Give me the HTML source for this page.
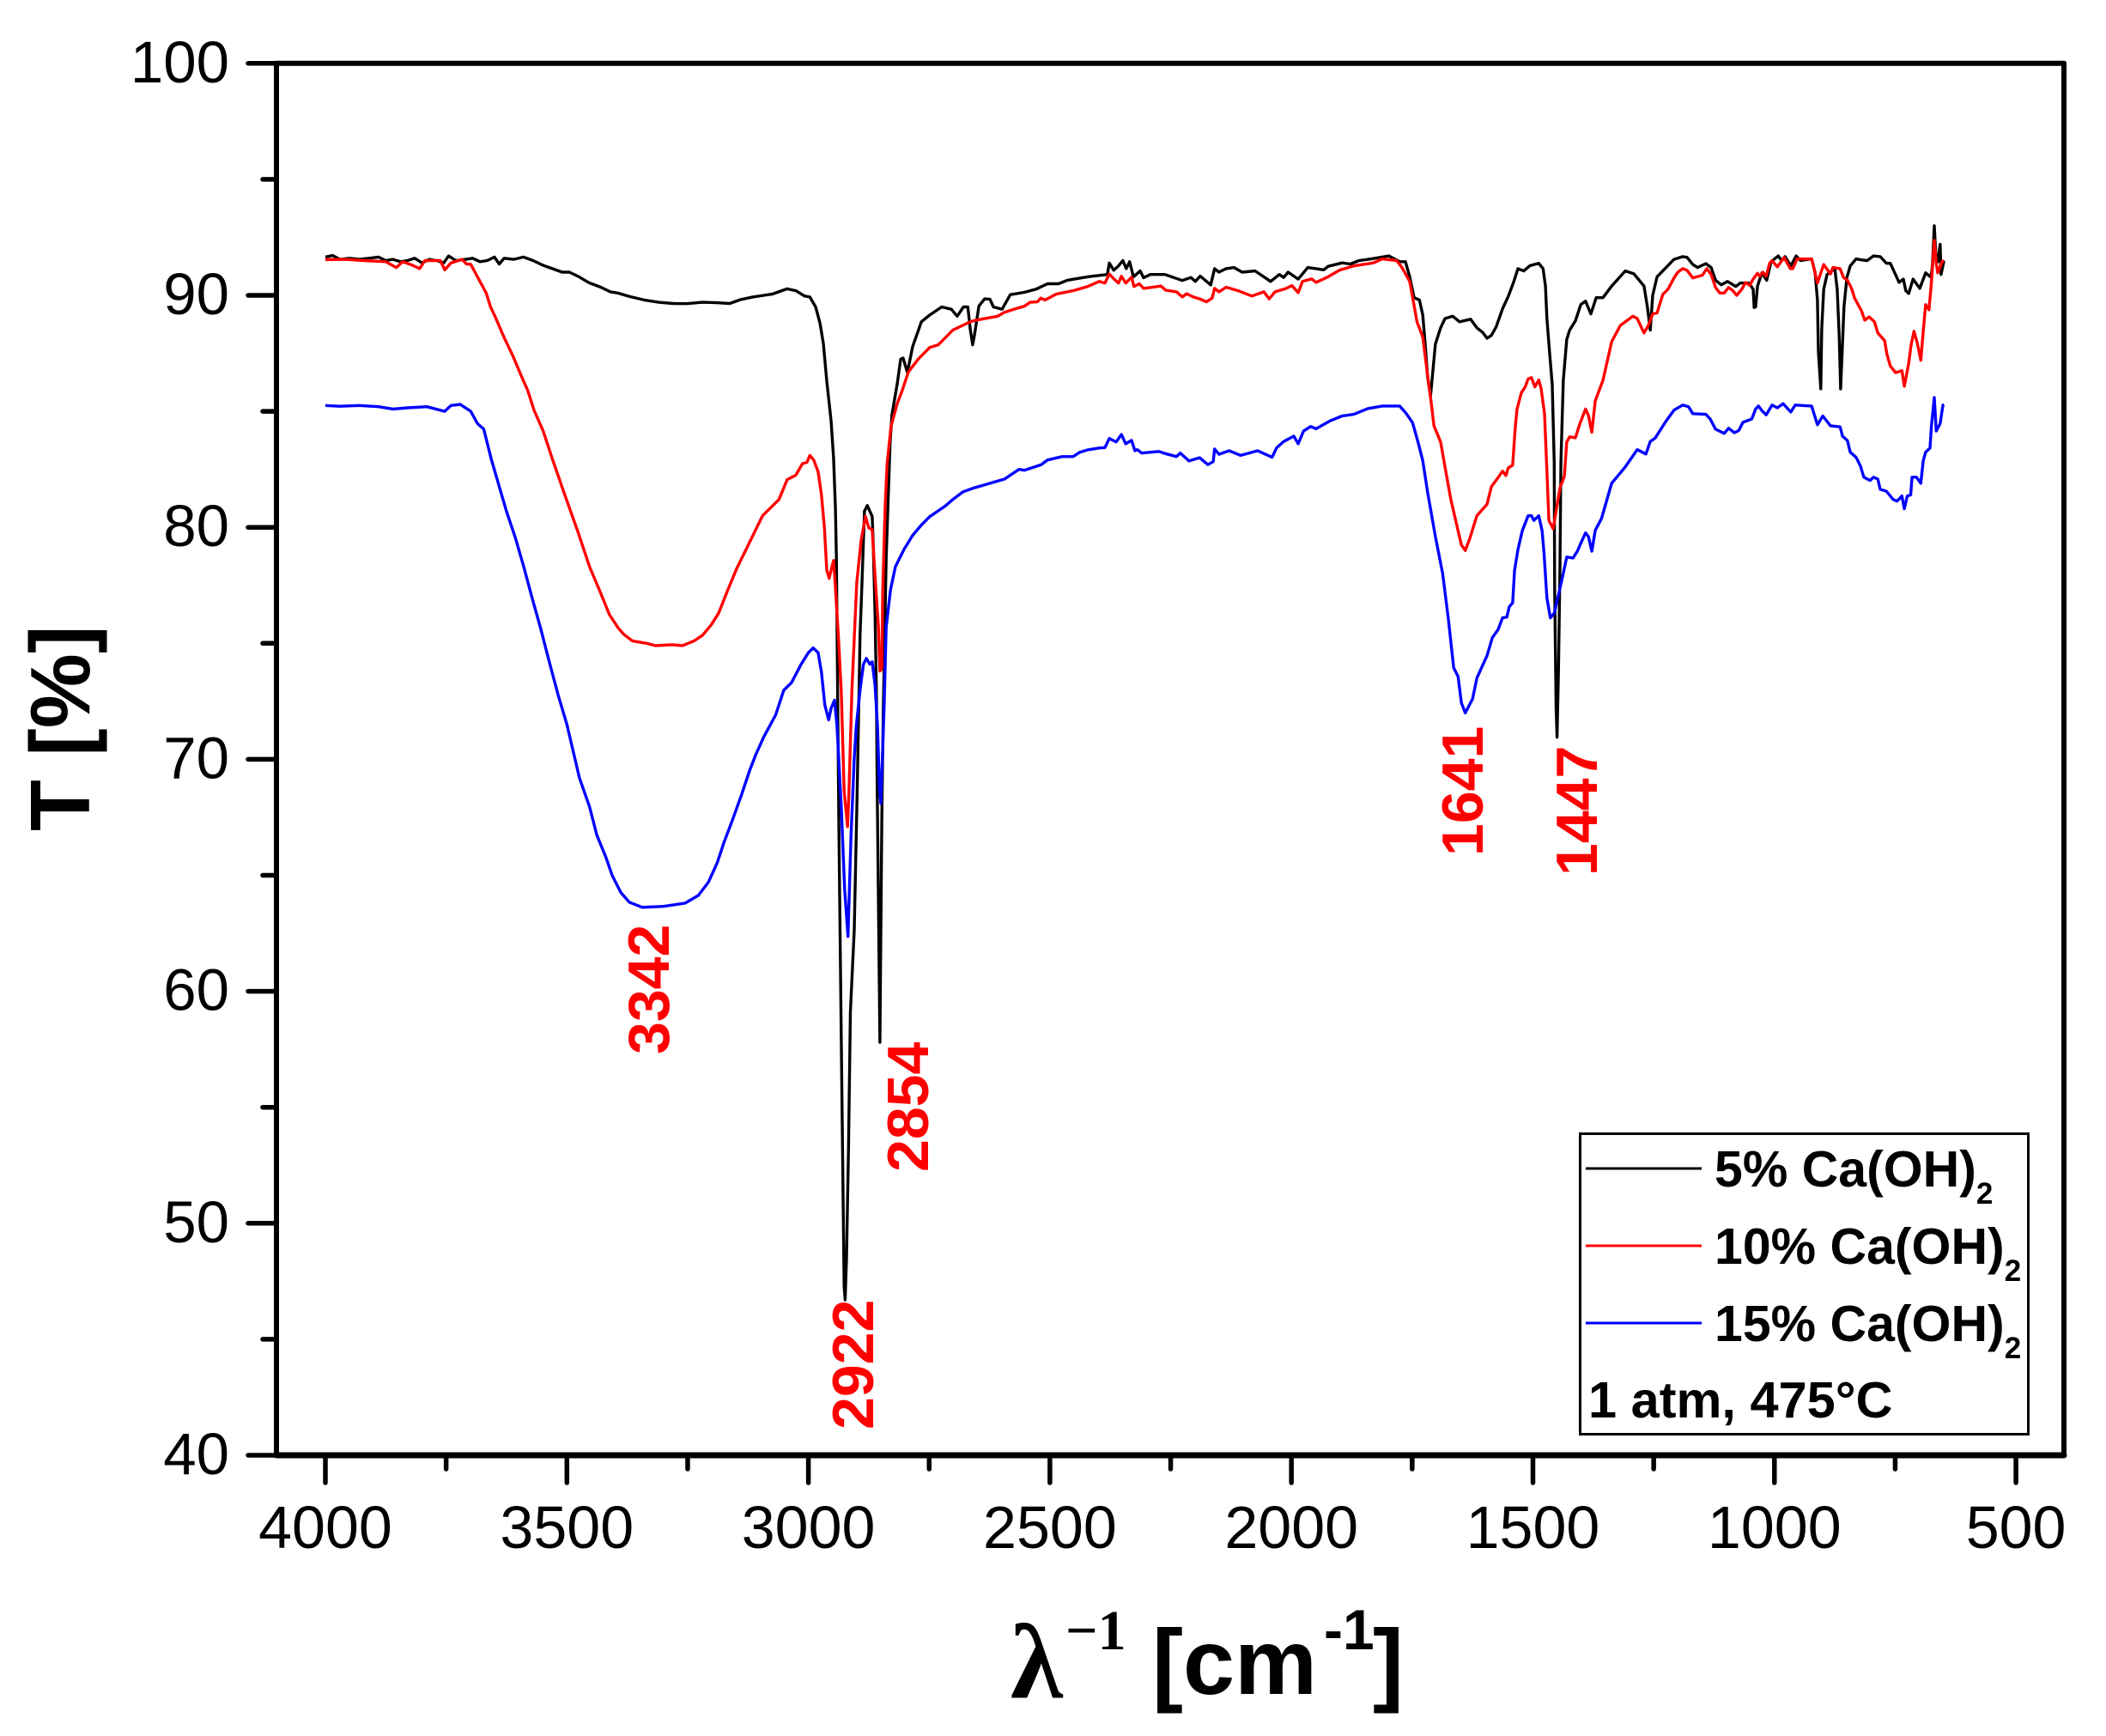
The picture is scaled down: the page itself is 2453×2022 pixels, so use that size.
<!DOCTYPE html>
<html lang="en">
<head>
<meta charset="utf-8">
<title>FTIR transmittance spectra</title>
<style>
html,body{margin:0;padding:0;background:#fff;}
svg{display:block;}
text{font-family:"Liberation Sans",sans-serif;fill:#000;}
.peak{font-weight:bold;font-size:68px;fill:#ff0000;}
.leg{font-weight:bold;font-size:59px;}
</style>
</head>
<body>
<svg id="chart" xmlns="http://www.w3.org/2000/svg" width="2453" height="2022" viewBox="0 0 2453 2022">
  <rect x="0" y="0" width="2453" height="2022" fill="#ffffff"/>
  <g id="series" fill="none" stroke-width="3.4" stroke-linejoin="round"></g>
  <g id="axes"></g>

  <text transform="translate(104,968) rotate(-90)" font-size="98" font-weight="bold">T [%]</text>

  <g>
    <text x="1177" y="1977" font-size="124" font-weight="bold" style="font-family:'Liberation Serif',serif">λ</text>
    <text x="1241" y="1921" font-size="66" font-weight="bold" style="font-family:'Liberation Serif',serif">−1</text>
    <text x="1342" y="1973" font-size="108" font-weight="bold">[cm</text>
    <text x="1542" y="1921" font-size="66" font-weight="bold">-1</text>
    <text x="1599" y="1973" font-size="108" font-weight="bold">]</text>
  </g>

  <text class="peak" transform="translate(779,1228) rotate(-90)">3342</text>
  <text class="peak" transform="translate(1017,1665) rotate(-90)">2922</text>
  <text class="peak" transform="translate(1081,1365) rotate(-90)">2854</text>
  <text class="peak" transform="translate(1727,997) rotate(-90)">1641</text>
  <text class="peak" transform="translate(1860,1020) rotate(-90)">1447</text>

  <g>
    <rect x="1840.5" y="1320.5" width="522" height="350" fill="#ffffff" stroke="#000" stroke-width="3"/>
    <line x1="1847" y1="1361" x2="1982" y2="1361" stroke="#000000" stroke-width="3"/>
    <line x1="1847" y1="1451" x2="1982" y2="1451" stroke="#ff0000" stroke-width="3"/>
    <line x1="1847" y1="1541" x2="1982" y2="1541" stroke="#0000ff" stroke-width="3"/>
    <text class="leg" x="1997" y="1382">5% Ca(OH)<tspan font-size="35" dy="20">2</tspan></text>
    <text class="leg" x="1997" y="1472">10% Ca(OH)<tspan font-size="35" dy="20">2</tspan></text>
    <text class="leg" x="1997" y="1562">15% Ca(OH)<tspan font-size="35" dy="20">2</tspan></text>
    <text class="leg" x="1850" y="1651" style="font-size:59.5px">1 atm, 475°C</text>
  </g>
</svg>

<script>
var xMajorTicks = [4000,3500,3000,2500,2000,1500,1000,500];
var xMinorTicks = [3750,3250,2750,2250,1750,1250,750];
var yMajorTicks = [100,90,80,70,60,50,40];
var yMinorTicks = [95,85,75,65,55,45];

var wn5 = [
4000,3985,3970,3950,3930,3910,3890,3875,3860,3845,
3830,3815,3800,3785,3770,3755,3745,3730,3710,3695,
3680,3665,3650,3640,3630,3610,3590,3570,3550,3530,
3510,3495,3475,3455,3430,3410,3395,3370,3340,3310,
3280,3252,3220,3190,3163,3140,3115,3074,3044,3026,
3008,2997,2985,2976,2969,2962,2953,2948,2944,2942,
2937,2932,2928,2926,2924,2921,2917,2913,2905,2899,
2893,2889,2884,2878,2868,2866,2862,2859,2858,2852,
2848,2845,2839,2831,2827,2816,2809,2804,2795,2784,
2766,2749,2724,2704,2692,2679,2670,2665,2660,2656,
2647,2635,2624,2617,2599,2582,2553,2528,2505,2482,
2464,2422,2398,2381,2377,2368,2358,2349,2342,2335,
2327,2313,2306,2292,2262,2226,2208,2199,2189,2167,
2159,2150,2135,2119,2102,2075,2043,2025,2016,2007,
1986,1966,1949,1933,1924,1895,1878,1860,1835,1798,
1776,1764,1755,1746,1735,1728,1723,1718,1712,1702,
1691,1682,1666,1652,1629,1616,1604,1595,1586,1576,
1563,1551,1540,1531,1519,1506,1488,1479,1474,1471,
1465,1460,1456,1455,1452,1450,1447,1444,1442,1437,
1430,1424,1412,1401,1391,1380,1369,1355,1337,1309,
1291,1270,1263,1257,1252,1243,1208,1190,1181,1169,
1159,1142,1131,1122,1110,1097,1080,1071,1053,1044,
1042,1039,1035,1026,1016,1007,992,985,978,966,
955,946,923,916,911,909,904,902,898,891,
875,870,866,863,859,856,850,843,831,820,
808,795,781,768,760,751,742,733,728,722,
713,699,687,676,673,669,665,662,657,655,
649];
var t5 = [
91.65,91.72,91.55,91.6,91.55,91.6,91.65,91.5,91.55,91.45,
91.5,91.6,91.4,91.55,91.5,91.4,91.7,91.5,91.55,91.6,
91.45,91.5,91.65,91.35,91.6,91.55,91.65,91.5,91.3,91.15,
91.0,91.0,90.8,90.55,90.35,90.15,90.1,89.95,89.8,89.7,
89.65,89.64,89.7,89.68,89.65,89.82,89.93,90.06,90.28,90.2,
89.97,89.93,89.5,88.8,87.93,86.3,84.6,83.0,80.8,78.7,
67.4,57.9,50.85,47.3,46.7,48.5,53.2,59.1,62.65,68.6,
75.4,77.6,80.7,80.94,80.47,79.4,76.3,72.65,69.6,57.8,
67.4,72.1,78.7,83.6,84.85,86.2,87.25,87.3,86.68,87.8,
88.86,89.15,89.5,89.4,89.1,89.5,89.5,88.55,87.87,88.3,
89.54,89.85,89.83,89.5,89.4,90.03,90.13,90.27,90.5,90.5,
90.65,90.8,90.86,90.9,91.39,91.08,91.27,91.5,91.15,91.45,
90.8,91.05,90.76,90.9,90.9,90.64,90.77,90.6,90.83,90.45,
91.15,91,91.15,91.2,91,91.05,90.6,90.9,90.77,91,
90.7,91.2,91.15,91.1,91.25,91.4,91.35,91.5,91.57,91.7,
91.45,91.45,90.8,89.9,89.8,89.15,87.9,86.45,85.65,87.9,
88.6,89.0,89.1,88.86,88.97,88.6,88.4,88.15,88.27,88.64,
89.42,89.96,90.57,91.15,91.05,91.28,91.38,91.15,90.4,89.0,
87.4,86.15,82.8,77.4,72.2,70.95,73.9,78.3,82.8,86.35,
88.1,88.5,88.9,89.6,89.75,89.2,89.9,89.9,90.4,91.05,
90.93,90.4,89.5,88.5,90.0,90.8,91.55,91.67,91.64,91.33,
91.2,91.37,91.2,90.65,90.45,90.6,90.38,90.53,90.53,90.27,
89.48,89.5,90.4,90.97,90.65,91.45,91.7,91.5,91.67,91.27,
91.7,91.5,91.57,91,89.8,87.57,85.97,88.56,90.27,90.9,
91.15,90.27,88.3,85.97,87.93,89.5,90.77,91.27,91.57,91.53,
91.5,91.7,91.67,91.38,91.38,90.97,90.56,90.7,90.2,90.08,
90.7,90.3,90.97,90.78,91.27,93,91.38,91.45,92.2,90.9,
91.5];

var wn10 = [
4000,3960,3920,3875,3862,3853,3840,3820,3805,3794,
3762,3753,3740,3717,3708,3699,3680,3667,3658,3649,
3630,3612,3595,3581,3568,3549,3531,3506,3477,3453,
3430,3412,3394,3382,3364,3335,3317,3282,3261,3237,
3219,3201,3186,3168,3149,3127,3109,3095,3079,3061,
3044,3026,3012,3003,2997,2989,2980,2973,2967,2962,
2957,2953,2948,2944,2937,2932,2926,2919,2916,2910,
2900,2891,2882,2875,2868,2862,2855,2852,2848,2846,
2841,2837,2829,2816,2807,2793,2772,2749,2731,2715,
2701,2665,2653,2608,2594,2567,2553,2541,2526,2519,
2510,2487,2452,2422,2398,2386,2377,2367,2358,2352,
2343,2331,2326,2315,2306,2270,2260,2238,2226,2217,
2203,2190,2176,2164,2159,2150,2135,2109,2082,2057,
2046,2034,2013,1999,1986,1977,1958,1949,1924,1901,
1871,1830,1812,1782,1771,1755,1749,1740,1728,1719,
1710,1705,1691,1682,1670,1658,1648,1640,1631,1616,
1595,1586,1572,1563,1556,1551,1542,1537,1533,1524,
1516,1510,1503,1496,1488,1483,1476,1471,1467,1458,
1453,1444,1435,1430,1424,1412,1403,1391,1385,1378,
1371,1355,1337,1319,1293,1284,1270,1261,1252,1243,
1231,1220,1208,1200,1190,1181,1169,1149,1140,1131,
1122,1113,1104,1095,1086,1078,1067,1060,1051,1044,
1035,1030,1024,1017,1010,1005,994,980,967,962,
953,923,918,911,905,898,884,879,864,857,
849,840,834,825,820,813,804,793,786,772,
767,760,749,736,731,722,717,711,704,697,
693,687,680,675,669,665,662,653,649];
var t10 = [
91.54,91.55,91.5,91.45,91.3,91.2,91.45,91.3,91.15,91.5,
91.5,91.1,91.4,91.55,91.35,91.34,90.6,90.1,89.5,89.1,
88.18,87.4,86.55,85.9,85.05,84.15,83.0,81.5,79.8,78.3,
77.16,76.24,75.67,75.38,75.1,75.0,74.9,74.94,74.9,75.1,
75.35,75.8,76.3,77.24,78.2,79.13,79.9,80.5,80.83,81.2,
82.05,82.25,82.75,82.8,83.1,82.9,82.4,81.4,80,78.15,
77.8,78.15,78.57,77.4,75,72.9,68.65,67.1,68.65,72.9,
77.6,79.4,80.47,79.98,79.9,77.9,75.7,73.8,73.9,77.3,
81,82.75,84.35,85.34,85.83,86.7,87.27,87.75,87.87,88.2,
88.5,88.86,88.93,89.1,89.27,89.45,89.53,89.7,89.72,89.88,
89.8,90.05,90.2,90.38,90.6,90.53,90.92,90.7,90.53,90.82,
90.53,90.78,90.38,90.5,90.3,90.4,90.22,90.15,89.93,90.07,
89.93,89.85,89.72,89.88,90.3,90.15,90.35,90.19,89.97,90.15,
89.85,90.15,90.28,90.42,90.12,90.6,90.71,90.56,90.8,91.08,
91.27,91.4,91.57,91.5,91.2,90.6,89.9,88.86,88.2,86.7,
85.27,84.38,83.68,82.6,81.2,80.13,79.24,79.0,79.5,80.5,
81,81.75,82.15,82.42,82.23,82.56,82.68,84.2,85.08,85.8,
86.05,86.4,86.45,86.05,86.35,85.97,84.9,82.42,80.3,79.94,
80.57,81.7,82.2,83.68,83.9,83.86,84.46,85.1,84.82,84.1,
85.45,86.34,88,88.7,89.1,89,88.38,88.7,89.2,89.24,
90.04,90.27,90.75,91,91.15,91.08,90.75,90.87,91.15,90.9,
90.34,90.1,90.1,90.34,90.2,90,90.28,90.55,90.43,90.7,
90.95,90.83,91,90.83,91.38,91.5,91.23,91.63,91.15,91.15,
91.57,91.57,91.15,90.53,90.9,91.33,90.92,91.2,91.15,90.77,
90.65,90.28,89.88,89.53,89.34,88.93,89.07,88.86,88.38,88.05,
87.45,86.95,86.67,86.75,86.08,87.07,87.87,88.45,87.93,87.2,
88.18,89.6,89.38,90.53,92.37,91.38,90.97,91.45,91.5];

var wn15 = [
4000,3970,3930,3890,3860,3830,3790,3753,3740,3721,
3699,3685,3672,3657,3639,3625,3607,3589,3572,3554,
3536,3518,3500,3488,3474,3453,3438,3420,3406,3388,
3371,3344,3300,3255,3228,3207,3189,3175,3157,3139,
3122,3109,3092,3068,3051,3035,3015,3000,2990,2980,
2973,2966,2958,2953,2946,2941,2932,2925,2918,2912,
2905,2901,2893,2886,2880,2873,2868,2862,2857,2853,
2850,2843,2839,2830,2820,2802,2784,2766,2749,2718,
2701,2680,2660,2624,2594,2564,2553,2518,2505,2475,
2452,2438,2422,2398,2386,2377,2363,2352,2343,2331,
2324,2319,2310,2274,2265,2238,2230,2212,2190,2173,
2162,2159,2150,2129,2105,2070,2040,2031,2016,1995,
1986,1975,1960,1949,1919,1895,1871,1842,1812,1776,
1762,1749,1737,1728,1718,1702,1687,1675,1664,1655,
1648,1640,1625,1616,1595,1584,1572,1563,1554,1549,
1542,1538,1531,1522,1510,1503,1498,1488,1481,1477,
1471,1464,1456,1447,1439,1430,1417,1408,1399,1391,
1385,1378,1371,1358,1337,1309,1284,1266,1257,1247,
1225,1208,1190,1178,1169,1142,1133,1122,1104,1095,
1083,1074,1065,1047,1039,1033,1026,1017,1005,994,
982,966,957,923,911,900,884,864,859,849,
843,831,822,815,802,795,786,781,768,754,
746,736,731,725,718,715,706,697,692,687,
678,675,669,665,657,651,649];
var t15 = [
85.25,85.22,85.25,85.2,85.1,85.15,85.2,85.0,85.25,85.3,
85.0,84.47,84.23,82.97,81.68,80.68,79.57,78.28,76.95,75.62,
74.17,72.76,71.5,70.43,69.2,67.95,66.73,65.82,64.98,64.25,
63.84,63.62,63.66,63.8,64.13,64.7,65.53,66.4,67.4,68.44,
69.5,70.2,70.98,71.9,72.98,73.3,74.1,74.6,74.8,74.6,
73.76,72.35,71.7,72.2,72.55,71.5,67.95,64.4,62.36,66.55,
70.05,71.4,73,74.1,74.35,74.1,74.2,73.2,71.4,68.8,
68.1,72.4,75.7,77.3,78.3,79.05,79.66,80.1,80.46,80.9,
81.2,81.53,81.68,81.9,82.08,82.5,82.46,82.7,82.9,83.05,
83.05,83.24,83.34,83.42,83.44,83.83,83.68,84.0,83.6,83.75,
83.3,83.35,83.2,83.27,83.2,83.05,83.2,82.86,83,82.7,
82.83,83.38,83.15,83.3,83.1,83.3,83.02,83.42,83.7,83.93,
83.6,84.15,84.35,84.25,84.6,84.8,84.87,85.12,85.23,85.23,
84.9,84.5,83.6,82.87,81.5,79.6,78.02,76.05,73.94,73.57,
72.43,72.0,72.6,73.5,74.47,75.24,75.6,76.1,76.13,76.57,
76.75,78.15,79.05,79.85,80.5,80.5,80.3,80.5,79.85,78.9,
76.95,76.1,76.3,77.1,77.83,78.72,78.68,78.97,79.4,79.76,
79.6,78.97,79.87,80.38,81.9,82.6,83.35,83.16,83.7,83.84,
84.56,85.05,85.27,85.2,84.9,84.87,84.67,84.23,84.05,84.27,
84.08,84.17,84.53,84.67,85.1,85.23,85.03,84.85,85.27,85.15,
85.33,84.97,85.27,85.23,84.42,84.8,84.38,84.33,83.93,83.74,
83.24,83.02,82.65,82.16,82.02,82.16,82.08,81.64,81.55,81.2,
81.13,81.35,80.8,81.35,81.4,82.16,82.16,81.9,82.87,83.24,
83.42,84.34,85.6,84.15,84.47,85.27,85.3];

var NS = 'http://www.w3.org/2000/svg';
function xPos(wn){ return 379 + (4000 - wn) * 0.5626; }
function yPos(t){ return 1695 - (t - 40) * 27.02; }

var seriesLayer = document.getElementById('series');
var axesLayer = document.getElementById('axes');

function drawSeries(xs, ys, colour, name){
  var d = '';
  for (var i = 0; i < xs.length; i++) {
    d += (i ? 'L' : 'M') + xPos(xs[i]).toFixed(1) + ' ' + yPos(ys[i]).toFixed(1);
  }
  var p = document.createElementNS(NS, 'path');
  p.setAttribute('d', d);
  p.setAttribute('stroke', colour);
  
  
  seriesLayer.appendChild(p);
}
drawSeries(wn5, t5, '#000000', 'series-5-percent');
drawSeries(wn10, t10, '#ff0000', 'series-10-percent');
drawSeries(wn15, t15, '#0000ff', 'series-15-percent');

function drawLine(x1, y1, x2, y2, w, name){
  var l = document.createElementNS(NS, 'line');
  l.setAttribute('x1', x1);
  l.setAttribute('y1', y1);
  l.setAttribute('x2', x2);
  l.setAttribute('y2', y2);
  l.setAttribute('stroke', '#000');
  l.setAttribute('stroke-width', w);
  l.setAttribute('stroke-linecap', 'round');
  
  
  axesLayer.appendChild(l);
}
function drawLabel(x, y, str, anchor, size, name){
  var t = document.createElementNS(NS, 'text');
  t.setAttribute('x', x);
  t.setAttribute('y', y);
  t.setAttribute('font-size', size);
  t.setAttribute('text-anchor', anchor);
  t.textContent = str;
  
  
  axesLayer.appendChild(t);
}

drawLine(322, yPos(100), 322, yPos(40), 6, 'y-axis-line');
drawLine(2404, yPos(100), 2404, yPos(40), 6, 'right-frame-line');
drawLine(322, yPos(100), 2404, yPos(100), 6, 'top-frame-line');
drawLine(322, yPos(40), 2404, yPos(40), 7, 'x-axis-line');

yMajorTicks.forEach(function(v){
  drawLine(289, yPos(v), 322, yPos(v), 5.5, 'y-major-tick');
  drawLabel(267, yPos(v) + 22, String(v), 'end', 69, 'y-tick-label');
});
yMinorTicks.forEach(function(v){
  drawLine(306, yPos(v), 322, yPos(v), 5.5, 'y-minor-tick');
});
xMajorTicks.forEach(function(v){
  drawLine(xPos(v), yPos(40), xPos(v), 1727, 5.5, 'x-major-tick');
  drawLabel(xPos(v), 1803, String(v), 'middle', 70, 'x-tick-label');
});
xMinorTicks.forEach(function(v){
  drawLine(xPos(v), yPos(40), xPos(v), 1711, 5.5, 'x-minor-tick');
});
</script>
</body>
</html>
